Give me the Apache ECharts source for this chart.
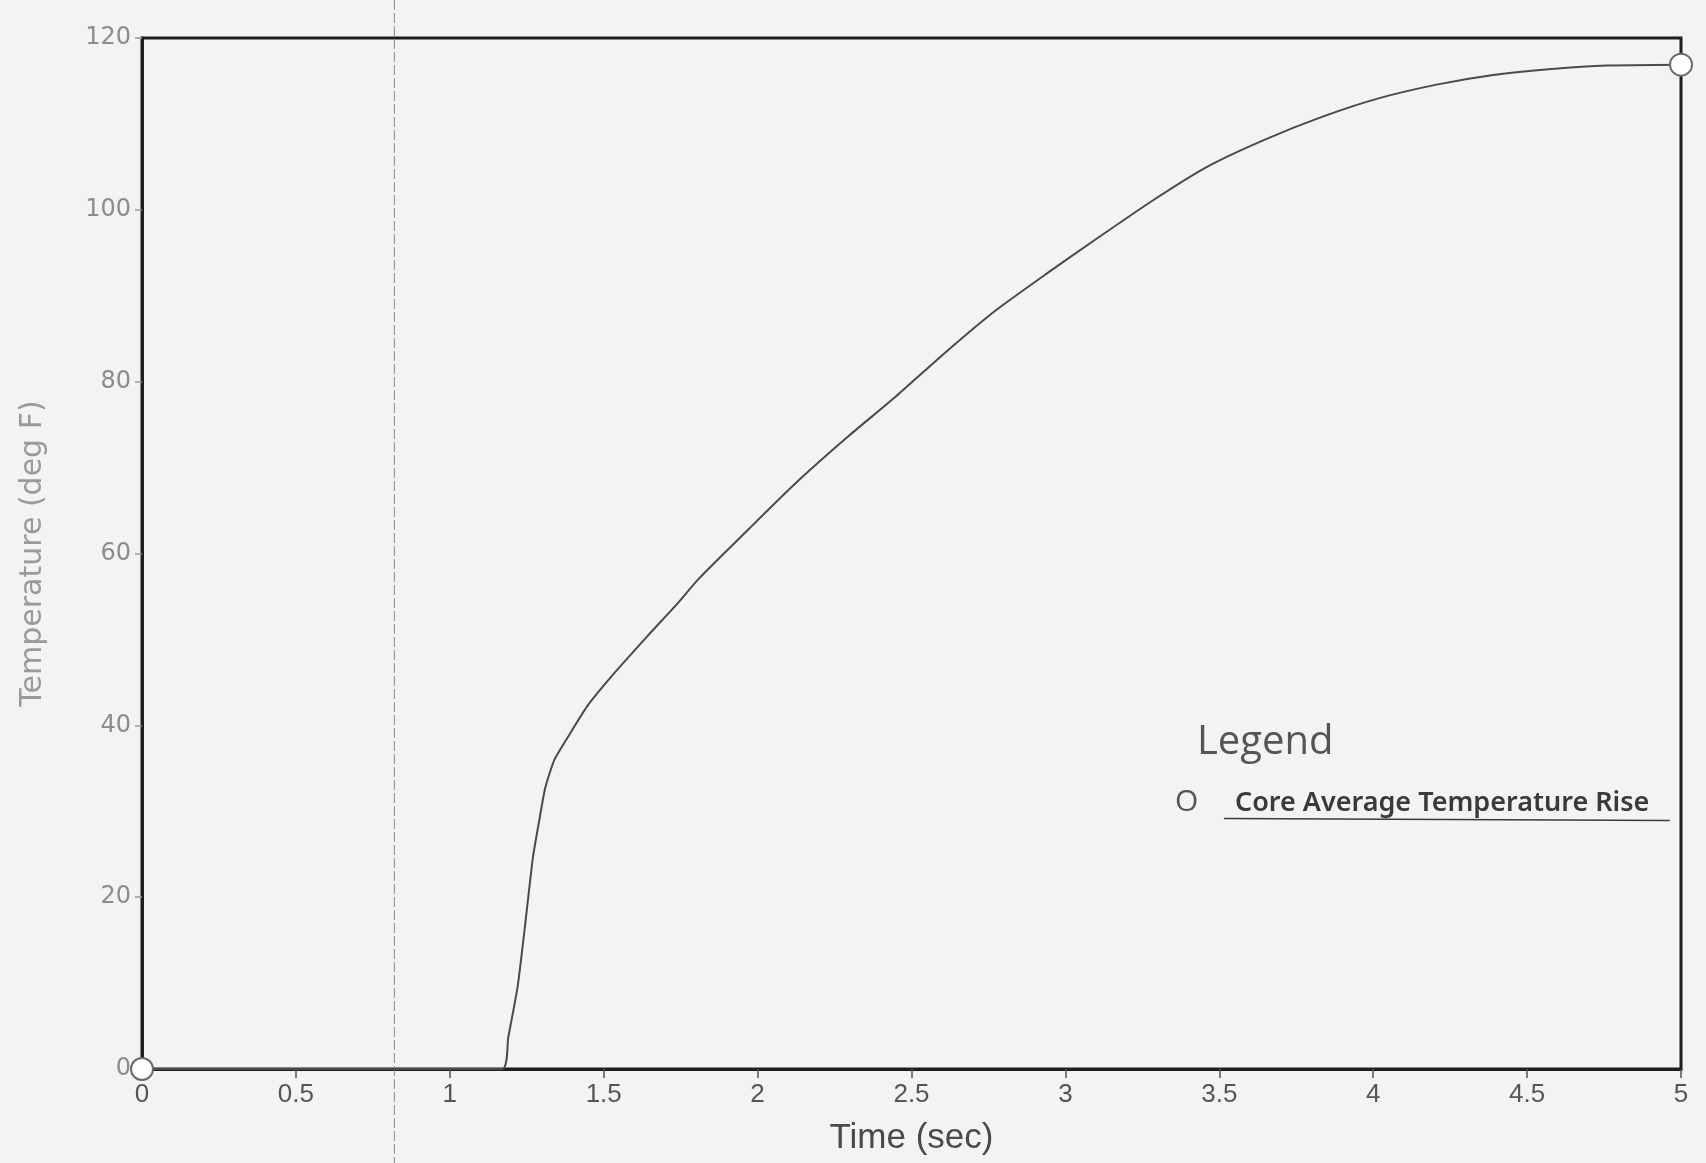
<!DOCTYPE html>
<html>
<head>
<meta charset="utf-8">
<title>Core Average Temperature Rise</title>
<script src="https://cdn.jsdelivr.net/npm/echarts@6/dist/echarts.min.js"></script>
<style>
  html, body { margin: 0; padding: 0; background: #f3f3f3; }
  #chart { width: 1706px; height: 1163px; }
</style>
</head>
<body>
<div id="chart"></div>
<script>
// time (sec) and core average temperature rise (deg F)
const timeSec = [0, 1.17, 1.19, 1.22, 1.24, 1.27, 1.29, 1.31, 1.34, 1.39, 1.45, 1.54, 1.64, 1.74, 1.81,
  1.97, 2.13, 2.29, 2.45, 2.61, 2.77, 2.94, 3.1, 3.28, 3.46, 3.65, 3.84, 4.02, 4.21, 4.39, 4.58, 4.76, 5]
const tempRise = [0, 0, 3.7, 9.5, 15.3, 24.6, 28.8, 32.7, 36.0, 39.0, 42.4, 46.3, 50.3, 54.2, 57.1,
  62.8, 68.4, 73.5, 78.3, 83.4, 88.2, 92.6, 96.6, 101.0, 105.0, 108.2, 110.9, 113.0, 114.6, 115.7, 116.4, 116.8, 116.9]
const seriesName = 'Core Average Temperature Rise'
const faintLineAt = 0.82 // the thin vertical line on the scan

const chart = echarts.init(document.getElementById('chart'))
const points = timeSec.map((t, i) => [t, tempRise[i]])
const last = points.length - 1

chart.setOption({
  backgroundColor: '#f3f3f3',
  animation: false,
  grid: {
    left: 142,
    right: 25,
    top: 38,
    bottom: 94,
    show: true,
    borderColor: '#1e1e1e',
    borderWidth: 3
  },
  xAxis: {
    type: 'value',
    min: 0,
    max: 5,
    interval: 0.5,
    name: 'Time (sec)',
    nameLocation: 'middle',
    nameGap: 52,
    nameTextStyle: { fontFamily: 'Liberation Sans Narrow, Liberation Sans', fontSize: 35, color: '#4a4a4a' },
    axisLine: { show: true, lineStyle: { color: '#1e1e1e', width: 3 } },
    axisTick: { show: true, length: 9, lineStyle: { color: '#555', width: 1.5 } },
    axisLabel: { margin: 13, fontFamily: 'Liberation Sans Narrow, Liberation Sans', fontSize: 26, color: '#555' },
    splitLine: { show: false }
  },
  yAxis: {
    type: 'value',
    min: 0,
    max: 120,
    interval: 20,
    name: 'Temperature (deg F)',
    nameLocation: 'middle',
    nameGap: 94,
    nameTextStyle: { fontFamily: 'DejaVu Sans', fontSize: 30, color: '#9a9a9a' },
    axisLine: { show: true, lineStyle: { color: '#1e1e1e', width: 3 } },
    axisTick: { show: true, length: 7, lineStyle: { color: '#999', width: 1.5 } },
    axisLabel: { margin: 11, fontFamily: 'DejaVu Sans', fontSize: 24, color: '#8c8c8c' },
    splitLine: { show: false }
  },
  series: [{
    name: seriesName,
    type: 'line',
    data: points,
    smooth: 0.2,
    clip: false,
    symbol: (val, params) => (params.dataIndex === 0 || params.dataIndex === last ? 'emptyCircle' : 'none'),
    symbolSize: 22,
    itemStyle: { color: '#6a6a6a', borderWidth: 1.5 },
    lineStyle: { color: '#4a4a4a', width: 2, join: 'round' }
  }]
})

// legend block and faint scan line, placed from the axes
const legAt = chart.convertToPixel({ gridIndex: 0 }, [3.45, 38])
const lineX = chart.convertToPixel({ gridIndex: 0 }, [faintLineAt, 0])[0]

chart.setOption({
  graphic: [
    {
      type: 'line',
      silent: true,
      shape: { x1: lineX, y1: 0, x2: lineX, y2: 1163 },
      style: { stroke: '#8a8a8a', lineWidth: 1, lineDash: [10, 3] },
      z: 1
    },
    {
      type: 'text',
      left: legAt[0] - 7,
      top: legAt[1] - 20,
      style: { text: 'Legend', font: '40px "Open Sans", "DejaVu Sans"', fill: '#555' }
    },
    {
      type: 'text',
      left: legAt[0] - 29,
      top: legAt[1] + 45,
      style: { text: 'O', font: '30px "Open Sans", "DejaVu Sans"', fill: '#555' }
    },
    {
      type: 'text',
      left: legAt[0] + 31,
      top: legAt[1] + 47,
      style: { text: seriesName, font: '600 27px "Noto Sans", "DejaVu Sans"', fill: '#3a3a3a' }
    },
    {
      type: 'line',
      shape: { x1: legAt[0] + 20, y1: legAt[1] + 76, x2: legAt[0] + 466, y2: legAt[1] + 78 },
      style: { stroke: '#3a3a3a', lineWidth: 1.5 }
    }
  ]
})
</script>
</body>
</html>
